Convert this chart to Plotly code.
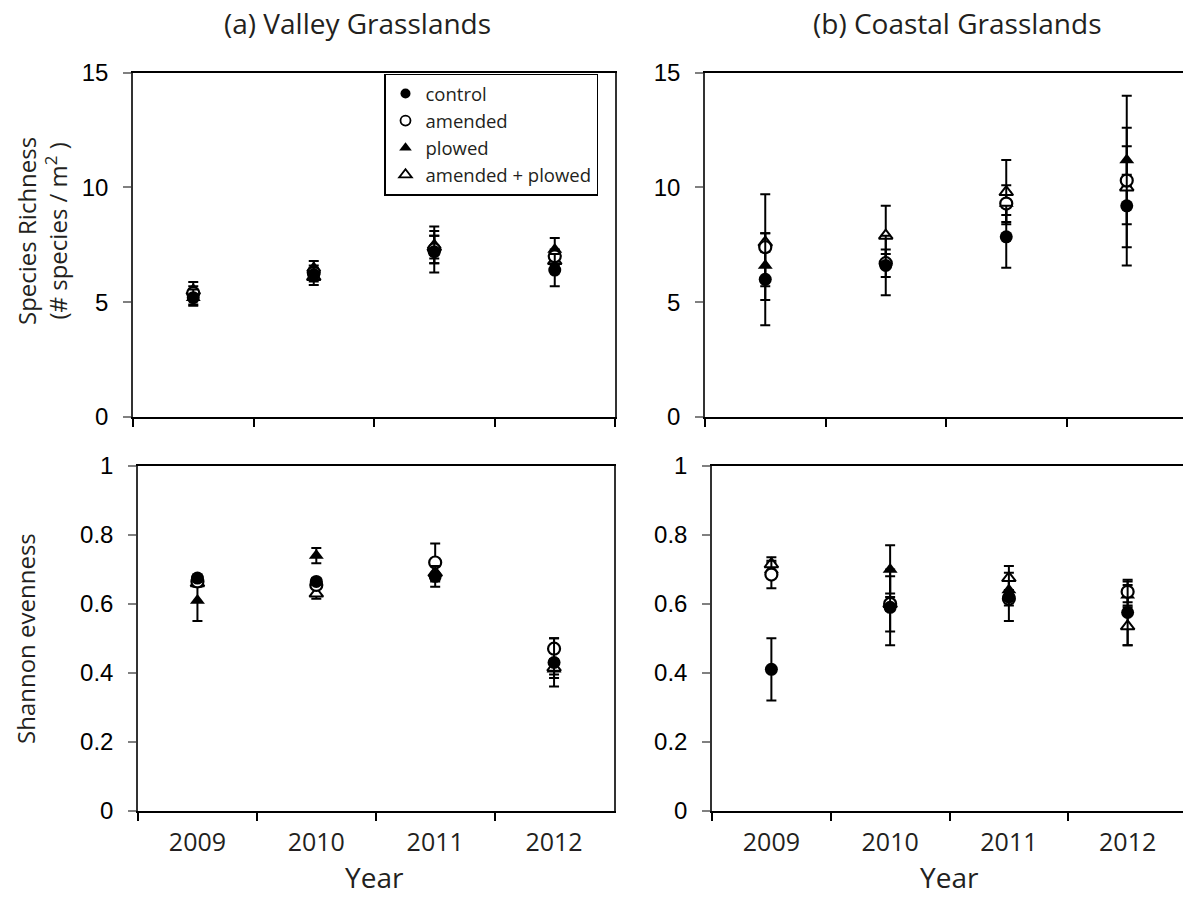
import plotly.graph_objects as go

W, H = 1183, 897

years = ['2009', '2010', '2011', '2012']
treatments = ['control', 'amended', 'plowed', 'amended + plowed']

# Species richness, Valley grasslands (mean, SE)
valley_rich = {
    'control': [5.2, 6.2, 7.2, 6.4],
    'amended': [5.4, 6.3, 7.3, 7.0],
    'plowed': [5.2, 6.5, 7.5, 7.3],
    'amended + plowed': [5.5, 6.1, 7.4, 6.8],
}
valley_rich_err = {
    'control': [0.35, 0.3, 0.9, 0.7],
    'amended': [0.3, 0.3, 0.6, 0.3],
    'plowed': [0.3, 0.3, 0.8, 0.5],
    'amended + plowed': [0.38, 0.35, 0.5, 0.2],
}
# Species richness, Coastal grasslands
coastal_rich = {
    'control': [6.0, 6.6, 7.85, 9.2],
    'amended': [7.4, 6.7, 9.3, 10.3],
    'plowed': [6.6, 6.8, 9.3, 11.2],
    'amended + plowed': [7.6, 7.9, 9.8, 10.0],
}
coastal_rich_err = {
    'control': [2.0, 1.3, 1.35, 2.6],
    'amended': [2.3, 0.6, 0.8, 0.25],
    'plowed': [0.9, 0.3, 0.5, 2.8],
    'amended + plowed': [0.4, 1.3, 1.4, 2.6],
}
# Shannon evenness, Valley grasslands
valley_even = {
    'control': [0.675, 0.665, 0.68, 0.43],
    'amended': [0.665, 0.655, 0.72, 0.47],
    'plowed': [0.61, 0.74, 0.69, 0.41],
    'amended + plowed': [0.66, 0.63, 0.69, 0.415],
}
valley_even_err = {
    'control': [0.01, 0.01, 0.03, 0.07],
    'amended': [0.01, 0.01, 0.055, 0.03],
    'plowed': [0.06, 0.022, 0.02, 0.025],
    'amended + plowed': [0.01, 0.015, 0.02, 0.02],
}
# Shannon evenness, Coastal grasslands
coastal_even = {
    'control': [0.41, 0.59, 0.62, 0.575],
    'amended': [0.685, 0.60, 0.615, 0.635],
    'plowed': [0.70, 0.70, 0.64, 0.625],
    'amended + plowed': [0.715, 0.60, 0.675, 0.535],
}
coastal_even_err = {
    'control': [0.09, 0.11, 0.07, 0.095],
    'amended': [0.04, 0.08, 0.02, 0.03],
    'plowed': [0.02, 0.07, 0.03, 0.03],
    'amended + plowed': [0.02, 0.02, 0.035, 0.055],
}

styles = {
    'control': dict(symbol='circle', color='black', line=dict(color='black', width=0), size=13),
    'amended': dict(symbol='circle', color='white', line=dict(color='black', width=2.2), size=12),
    'plowed': dict(symbol='triangle-up', color='black', line=dict(color='black', width=0), size=13),
    'amended + plowed': dict(symbol='triangle-up', color='white', line=dict(color='black', width=2), size=12),
}
draw_order = ['plowed', 'amended + plowed', 'amended', 'control']

TXT = '#231f20'
fig = go.Figure()

panels = [
    ('x', 'y', valley_rich, valley_rich_err),
    ('x2', 'y2', coastal_rich, coastal_rich_err),
    ('x3', 'y3', valley_even, valley_even_err),
    ('x4', 'y4', coastal_even, coastal_even_err),
]
for xa, ya, vals, errs in panels:
    for t in draw_order:
        fig.add_trace(go.Scatter(
            x=years, y=vals[t], mode='markers', xaxis=xa, yaxis=ya,
            marker=styles[t], showlegend=False, cliponaxis=False,
            error_y=dict(type='data', array=errs[t], visible=True,
                         color='black', thickness=2, width=5),
        ))

# legend entries
for t in treatments:
    st = dict(styles[t])
    st['size'] = 10 if 'circle' in st['symbol'] else 11
    if st['color'] == 'white':
        st['line'] = dict(color='black', width=1.8)
    fig.add_trace(go.Scatter(x=[None], y=[None], mode='markers', name=t,
                             marker=st, xaxis='x', yaxis='y', showlegend=True))

def px_x(p):
    return p / W

def px_y(p):
    return 1 - p / H

common_x = dict(type='category', categoryorder='array', categoryarray=years,
                tickson='boundaries', ticks='outside', ticklen=8, tickwidth=1.5,
                tickcolor='black', showline=True, linecolor='black', linewidth=2,
                mirror=True, showgrid=False, zeroline=False, ticklabelstandoff=8,
                automargin=False,
                tickfont=dict(family='Open Sans', size=25, color=TXT))
common_y = dict(ticks='outside', ticklen=8, tickwidth=1.5, tickcolor='#808080',
                showline=True, linecolor='#333333', linewidth=1.5, mirror=True,
                showgrid=False, zeroline=False, ticklabelstandoff=10,
                automargin=False,
                tickfont=dict(family='Liberation Sans, Arial', size=24, color='black'))

top_dom = [px_y(417), px_y(72.7)]
bot_dom = [px_y(810.7), px_y(466)]

fig.update_layout(
    width=W, height=H, margin=dict(l=0, r=0, t=0, b=0, pad=0, autoexpand=False),
    paper_bgcolor='white', plot_bgcolor='white',
    xaxis=dict(common_x, domain=[px_x(133), px_x(615)], range=[-0.5, 3.5],
               anchor='y', showticklabels=False),
    xaxis2=dict(common_x, domain=[px_x(705), 1.0], range=[-0.5, 3.5 - 4 / 120.5],
                anchor='y2', showticklabels=False),
    xaxis3=dict(common_x, domain=[px_x(138), px_x(613.5)], range=[-0.5, 3.5], anchor='y3'),
    xaxis4=dict(common_x, domain=[px_x(712), 1.0], range=[-0.5, 3.5 - 4 / 118.75], anchor='y4'),
    yaxis=dict(common_y, domain=top_dom, range=[0, 15], tickvals=[0, 5, 10, 15], anchor='x'),
    yaxis2=dict(common_y, domain=top_dom, range=[0, 15], tickvals=[0, 5, 10, 15], anchor='x2'),
    yaxis3=dict(common_y, domain=bot_dom, range=[0, 1], tickvals=[0, 0.2, 0.4, 0.6, 0.8, 1],
                ticktext=['0', '0.2', '0.4', '0.6', '0.8', '1'], anchor='x3'),
    yaxis4=dict(common_y, domain=bot_dom, range=[0, 1], tickvals=[0, 0.2, 0.4, 0.6, 0.8, 1],
                ticktext=['0', '0.2', '0.4', '0.6', '0.8', '1'], anchor='x4'),
    legend=dict(x=px_x(384), y=px_y(73.5), xanchor='left', yanchor='top',
                bordercolor='black', borderwidth=1.5, bgcolor='white',
                font=dict(family='Open Sans', size=18.5, color=TXT),
                itemwidth=30, tracegroupgap=0),
)

title_font = dict(family='Open Sans', size=28, color=TXT)
annots = [
    dict(text='(a) Valley Grasslands', x=px_x(357.5), y=px_y(23), font=title_font),
    dict(text='(b) Coastal Grasslands', x=px_x(957), y=px_y(23), font=title_font),
    dict(text='Year', x=px_x(374), y=px_y(877), font=dict(family='Open Sans', size=28, color=TXT)),
    dict(text='Year', x=px_x(949), y=px_y(877), font=dict(family='Open Sans', size=28, color=TXT)),
    dict(text='Species Richness<br>(# species / m<sup>2</sup> )', x=px_x(42), y=px_y(231),
         textangle=-90, font=dict(family='Open Sans', size=24, color=TXT)),
    dict(text='Shannon evenness', x=px_x(25), y=px_y(639),
         textangle=-90, font=dict(family='Open Sans', size=24, color=TXT)),
]
for a in annots:
    fig.add_annotation(xref='paper', yref='paper', showarrow=False,
                       xanchor='center', yanchor='middle', **a)

fig.write_html('out.html',
               post_script="document.body.style.margin='0px';document.body.style.overflow='hidden';")
